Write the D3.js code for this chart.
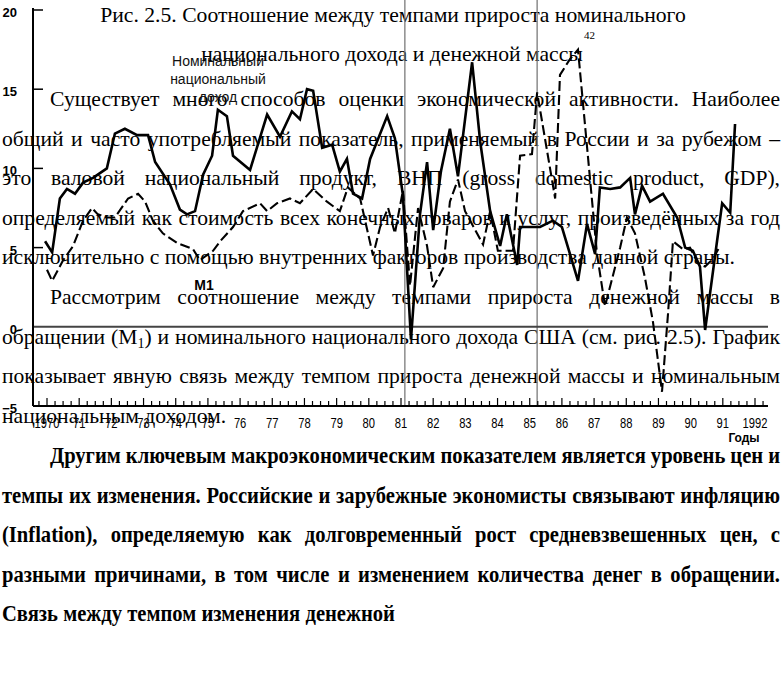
<!DOCTYPE html>
<html><head><meta charset="utf-8">
<script src="https://cdn.jsdelivr.net/npm/d3@7/dist/d3.min.js"></script>
<style>body{margin:0;background:#fff}svg{display:block}</style>
</head><body>
<svg id="c" width="784" height="675"></svg>
<script>
// ---- data ----
const incomeYears = [1969.94,1970.16,1970.40,1970.62,1970.87,1971.12,1971.43,1971.86,1972.11,1972.42,1972.80,1973.14,1973.36,1973.82,1974.13,1974.35,1974.60,1974.85,1975.13,1975.31,1975.59,1975.78,1976.31,1976.84,1977.24,1977.61,1977.86,1978.08,1978.27,1978.55,1978.86,1979.10,1979.32,1979.51,1979.79,1980.04,1980.57,1980.81,1981.06,1981.31,1981.59,1981.81,1982.00,1982.24,1982.52,1982.77,1983.21,1983.46,1983.77,1984.08,1984.29,1984.61,1984.70,1985.32,1985.72,1986.00,1986.50,1986.78,1987.03,1987.18,1987.50,1987.81,1988.12,1988.27,1988.49,1988.74,1989.14,1989.58,1989.83,1990.07,1990.29,1990.45,1990.82,1990.98,1991.23,1991.38];
const incomeValues = [5.4,4.7,8.1,8.7,8.4,9.1,9.4,10.0,12.2,12.5,12.1,12.1,10.4,9.0,7.4,7.1,7.3,9.6,10.8,13.7,13.3,10.8,9.9,13.4,12.0,13.6,13.1,15.0,14.9,11.3,11.5,9.8,10.6,8.4,8.1,10.6,13.3,11.9,8.3,-0.8,7.1,10.4,6.1,9.8,12.5,9.5,16.7,11.7,7.3,5.1,7.1,3.9,6.3,6.3,6.7,6.3,2.9,6.5,4.6,8.8,8.7,8.8,9.4,7.1,8.9,7.9,8.4,6.9,5.0,4.8,3.8,-0.2,5.4,7.8,7.2,12.8];
const m1Years = [1970.00,1970.16,1970.50,1970.81,1971.12,1971.40,1971.58,1971.86,1972.11,1972.52,1972.83,1973.05,1973.29,1973.60,1974.04,1974.54,1974.75,1975.16,1975.38,1975.78,1976.09,1976.62,1976.84,1977.15,1977.55,1977.86,1978.27,1978.70,1979.10,1979.35,1979.73,1980.13,1980.35,1980.60,1980.81,1981.06,1981.28,1981.53,1981.81,1982.00,1982.31,1982.52,1982.77,1982.99,1983.55,1983.77,1984.01,1984.48,1984.70,1985.07,1985.23,1985.79,1985.94,1986.25,1986.50,1987.09,1987.34,1987.81,1988.02,1988.27,1988.58,1988.83,1989.11,1989.30,1989.45,1989.76,1989.98,1990.23,1990.45,1990.70,1990.91];
const m1Values = [3.6,2.9,4.2,5.1,6.7,7.5,7.1,6.9,6.9,8.1,8.4,7.9,6.7,5.9,5.3,4.9,4.2,4.8,5.4,6.3,7.3,7.8,7.3,7.8,8.1,7.8,8.7,7.9,7.3,8.8,8.1,4.5,6.3,7.5,5.9,8.6,2.6,7.5,5.1,2.5,3.7,7.9,9.3,7.3,5.2,7.3,4.8,4.8,10.8,10.9,14.8,8.1,15.9,16.9,17.5,4.6,1.3,5.0,6.9,5.9,3.1,0.3,-4.1,0.9,5.4,4.9,5.0,4.0,3.8,4.3,5.1];
const yTickValues = [20,15,10,5,0,-5];
const yTickLabels = ["20","15","10","5","0","\u22125"];
const xTickYears = [1970,1971,1972,1973,1974,1975,1976,1977,1978,1979,1980,1981,1982,1983,1984,1985,1986,1987,1988,1989,1990,1991,1992];
const xTickLabels = ["1970","71","72","73","74","75","76","77","78","79","80","81","82","83","84","85","86","87","88","89","90","91","1992"];
const markerYears = [1981.12,1985.23];
const incomeLabel = ["Номинальный","национальный","доход"];
const m1Label = "М1";
const xAxisTitle = "Годы";
const titleLines = ["Рис. 2.5. Соотношение между темпами прироста номинального","национального дохода и денежной массы"];
const footnote = "42";
const bodyLines = [
 "Существует много способов оценки экономической активности. Наиболее",
 "общий и часто употребляемый показатель, применяемый в России и за рубежом –",
 "это валовой национальный продукт, ВНП (gross domestic product, GDP),",
 "определяемый как стоимость всех конечных товаров и услуг, произведённых за год",
 "исключительно с помощью внутренних факторов производства данной страны.",
 "Рассмотрим соотношение между темпами прироста денежной массы в",
 "обращении (М_1) и номинального национального дохода США (см. рис. 2.5). График",
 "показывает явную связь между темпом прироста денежной массы и номинальным",
 "национальным доходом."
];
const boldLines = [
 "Другим ключевым макроэкономическим показателем является уровень цен и",
 "темпы их изменения. Российские и зарубежные экономисты связывают инфляцию",
 "(Inflation), определяемую как долговременный рост средневзвешенных цен, с",
 "разными причинами, в том числе и изменением количества денег в обращении.",
 "Связь между темпом изменения денежной"
];

// ---- drawing ----
const svg = d3.select("#c");
const x = d3.scaleLinear().domain([1970,1992]).range([47,755]);
const y = d3.scaleLinear().domain([-5,20]).range([406,10]);
const axL = 33, axR = 768;
const serif = "'Liberation Serif','Times New Roman',serif";
const sans = "'Liberation Sans',Arial,sans-serif";

function measure(str, size, weight){
  const t = svg.append("text").attr("font-family",serif).attr("font-size",size).attr("font-weight",weight).text(str);
  const w = t.node().getComputedTextLength(); t.remove(); return w;
}
function fit(str, target, weight){ return 20*target/measure(str,20,weight); }

const textG = svg.append("g");
function drawLine(str, x0, x1, yb, size, weight, justify, sx){
  sx = sx || 1;
  const words = str.split(" ");
  const nodes = words.map(w=>{
    const t = textG.append("text").attr("font-family",serif).attr("font-size",size)
      .attr("font-weight",weight).attr("fill","#000");
    if (w.includes("_")) {
      const [a,b] = w.split("_");
      t.append("tspan").text(a);
      t.append("tspan").attr("font-size",size*0.65).attr("dy",size*0.22).text(b[0]);
      t.append("tspan").attr("dy",-size*0.22).text(b.slice(1));
    } else t.text(w);
    return t;
  });
  const widths = nodes.map(n=>n.node().getComputedTextLength()*sx);
  const gap = justify && words.length>1 ? (x1-x0-d3.sum(widths))/(words.length-1) : size*0.25*sx;
  let cx = x0;
  nodes.forEach((n,i)=>{ n.attr("transform",`translate(${cx},${yb}) scale(${sx},1)`); cx += widths[i]+gap; });
}

const titleSize = fit(titleLines[0], 586, "normal");
textG.append("text").attr("x",393).attr("y",22).attr("text-anchor","middle")
  .attr("font-family",serif).attr("font-size",titleSize).text(titleLines[0]);
textG.append("text").attr("x",392).attr("y",61).attr("text-anchor","middle")
  .attr("font-family",serif).attr("font-size",titleSize).text(titleLines[1]);
textG.append("text").attr("x",584).attr("y",39).attr("font-family",serif).attr("font-size",11).text(footnote);

const bodySize = fit(bodyLines[4], 733, "normal");
const indentBody = new Set([0,5]);
const lastBody = new Set([4,8]);
bodyLines.forEach((s,i)=>{
  drawLine(s, indentBody.has(i)?50:2, 780, 106+39.6*i, bodySize, "normal", !lastBody.has(i), 1);
});
const boldSize = 22.5;
const boldSx = 393/measure(boldLines[4], boldSize, "bold");
boldLines.forEach((s,i)=>{
  drawLine(s, i===0?50:2, 780, 463+39.6*i, boldSize, "bold", i!==4, boldSx);
});

// chart
const g = svg.append("g");
g.selectAll("line.marker").data(markerYears).join("line")
  .attr("x1",d=>x(d)).attr("x2",d=>x(d)).attr("y1",0).attr("y2",y(-5))
  .attr("stroke","#7a7a7a").attr("stroke-width",1.3);

g.append("line").attr("x1",axL).attr("x2",axR).attr("y1",y(0)).attr("y2",y(0))
  .attr("stroke","#444").attr("stroke-width",2);
g.append("line").attr("x1",axL).attr("x2",axL).attr("y1",y(20)-2).attr("y2",y(-5))
  .attr("stroke","#000").attr("stroke-width",2);
g.append("line").attr("x1",axL).attr("x2",axR).attr("y1",y(-5)).attr("y2",y(-5))
  .attr("stroke","#000").attr("stroke-width",2);
g.selectAll("line.yt").data(yTickValues.filter(v=>v>0)).join("line")
  .attr("x1",axL).attr("x2",axL+10).attr("y1",d=>y(d)).attr("y2",d=>y(d))
  .attr("stroke","#000").attr("stroke-width",1.5);
g.selectAll("text.yl").data(yTickValues).join("text")
  .attr("x",17).attr("y",d=>y(d)+7).attr("text-anchor","end")
  .attr("font-family",sans).attr("font-weight","bold").attr("font-size",13)
  .text((d,i)=>yTickLabels[i]);

const quarters = d3.range(1969.75, 1992.3, 0.25);
g.selectAll("line.xt").data(quarters).join("line")
  .attr("x1",d=>x(d)).attr("x2",d=>x(d)).attr("y1",y(-5))
  .attr("y2",d=>y(-5)-(Math.abs(d-Math.round(d))<0.01?8:5))
  .attr("stroke","#000").attr("stroke-width",1.2);
g.selectAll("text.xl").data(xTickYears).join("text")
  .attr("transform",d=>`translate(${x(d)},428) scale(0.8,1)`)
  .attr("text-anchor","middle").attr("font-family",sans).attr("font-size",14)
  .text((d,i)=>xTickLabels[i]);
g.append("text").attr("x",744).attr("y",442).attr("text-anchor","middle")
  .attr("font-family",sans).attr("font-weight","bold").attr("font-size",12).text(xAxisTitle);

const line = d3.line().x(d=>x(d[0])).y(d=>y(d[1]));
g.append("path").datum(incomeYears.map((t,i)=>[t,incomeValues[i]]))
  .attr("d",line).attr("fill","none").attr("stroke","#000").attr("stroke-width",2.6)
  .attr("stroke-linejoin","miter").attr("stroke-miterlimit",3);
g.append("path").datum(m1Years.map((t,i)=>[t,m1Values[i]]))
  .attr("d",line).attr("fill","none").attr("stroke","#000").attr("stroke-width",2.1)
  .attr("stroke-dasharray","10,4").attr("stroke-miterlimit",3);

incomeLabel.forEach((s,i)=>{
  g.append("text").attr("x",218).attr("y",66+18*i).attr("text-anchor","middle")
   .attr("font-family",sans).attr("font-size",14).attr("fill","#111").text(s);
});
g.append("text").attr("x",204).attr("y",290).attr("text-anchor","middle")
  .attr("font-family",sans).attr("font-weight","bold").attr("font-size",14).text(m1Label);
</script>
</body></html>
